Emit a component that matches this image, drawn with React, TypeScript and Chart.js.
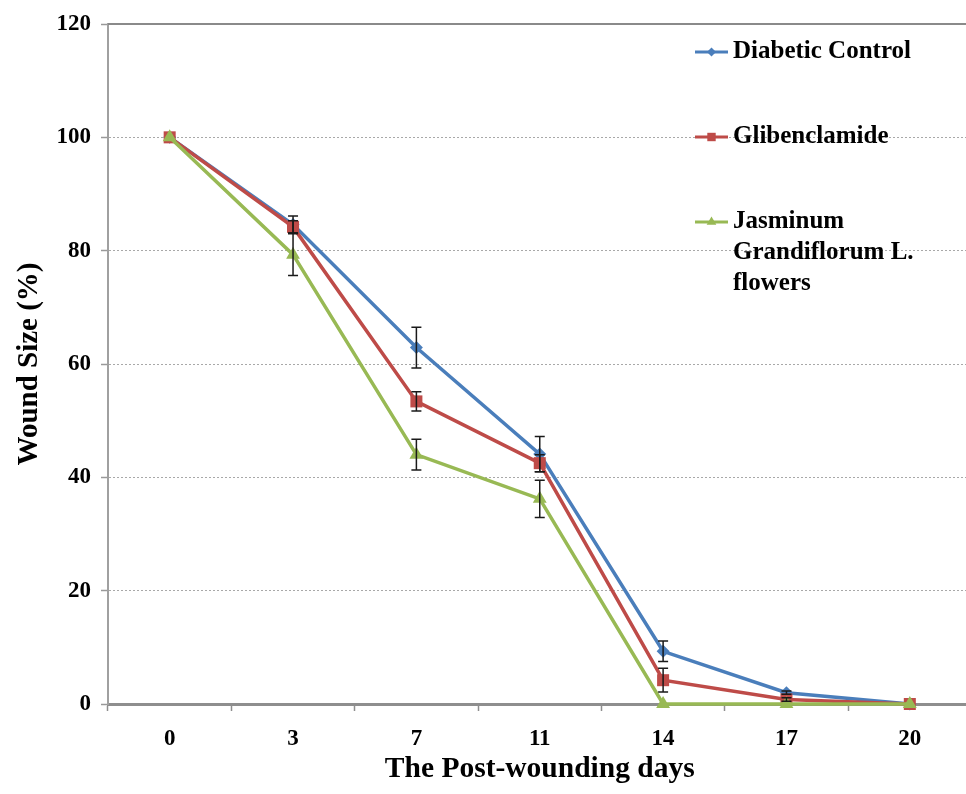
import React, { useEffect, useRef } from "react";
import { Chart, registerables } from "chart.js";

Chart.register(...registerables);

const days = ["0", "3", "7", "11", "14", "17", "20"];
const seriesNames = ["Diabetic Control", "Glibenclamide", "Jasminum Grandiflorum L. flowers"];
const diabeticControl = [100, 84.6, 62.9, 44.1, 9.3, 2.0, 0];
const glibenclamide = [100, 84.2, 53.4, 42.5, 4.2, 0.8, 0];
const jasminum = [100, 79.3, 44.0, 36.2, 0, 0, 0];
const diabeticErr = [0, 1.5, 3.6, 3.1, 1.8, 0.3, 0];
const glibenclamideErr = [0, 1.1, 1.7, 1.5, 2.1, 0.3, 0];
const jasminumErr = [0, 3.7, 2.7, 3.3, 0, 0, 0];
const yTicks = [0, 20, 40, 60, 80, 100, 120];

const colors = ["#4a7ebb", "#be4b48", "#98b954"];
const pointStyles = ["rectRot", "rect", "triangle"];
const pointRadii = [6.5, 8.5, 8];
const FONT = "'Liberation Serif', 'Times New Roman', serif";

const errorBarPlugin = {
  id: "errorBars",
  afterDatasetsDraw(chart: any) {
    const ctx = chart.ctx;
    const y = chart.scales.y;
    const errs = [diabeticErr, glibenclamideErr, jasminumErr];
    ctx.save();
    ctx.strokeStyle = "#1a1a1a";
    ctx.lineWidth = 1.5;
    chart.data.datasets.forEach((ds: any, di: number) => {
      const meta = chart.getDatasetMeta(di);
      meta.data.forEach((pt: any, i: number) => {
        const e = errs[di][i];
        if (!e) return;
        const v = ds.data[i];
        const yTop = y.getPixelForValue(v + e);
        const yBot = y.getPixelForValue(v - e);
        const x = pt.x;
        ctx.beginPath();
        ctx.moveTo(x, yTop);
        ctx.lineTo(x, yBot);
        ctx.moveTo(x - 5, yTop);
        ctx.lineTo(x + 5, yTop);
        ctx.moveTo(x - 5, yBot);
        ctx.lineTo(x + 5, yBot);
        ctx.stroke();
      });
    });
    ctx.restore();
  },
};

const frameTopPlugin = {
  id: "frameTop",
  beforeDatasetsDraw(chart: any) {
    const { ctx, chartArea } = chart;
    ctx.save();
    ctx.strokeStyle = "#8a8a8a";
    ctx.lineWidth = 2;
    ctx.beginPath();
    ctx.moveTo(chartArea.left, chartArea.top);
    ctx.lineTo(chartArea.right, chartArea.top);
    ctx.stroke();
    ctx.restore();
  },
};

function drawMarker(ctx: CanvasRenderingContext2D, style: string, x: number, y: number, r: number) {
  ctx.beginPath();
  if (style === "rectRot") {
    ctx.moveTo(x, y - r);
    ctx.lineTo(x + r, y);
    ctx.lineTo(x, y + r);
    ctx.lineTo(x - r, y);
  } else if (style === "rect") {
    const s = r * Math.SQRT1_2;
    ctx.rect(x - s, y - s, 2 * s, 2 * s);
  } else {
    const h = (r * 3) / 2;
    const s = (r * Math.sqrt(3));
    ctx.moveTo(x, y - r);
    ctx.lineTo(x + s / 2, y - r + h);
    ctx.lineTo(x - s / 2, y - r + h);
  }
  ctx.closePath();
  ctx.fill();
}

const legendPlugin = {
  id: "customLegend",
  afterDraw(chart: any) {
    const ctx = chart.ctx;
    const rowsY = [52, 137, 222];
    const lineX0 = 695;
    const lineX1 = 728;
    const textX = 733;
    const lineH = 31;
    const maxW = 205;
    ctx.save();
    ctx.font = `bold 25px ${FONT}`;
    ctx.textBaseline = "middle";
    ctx.textAlign = "left";
    chart.data.datasets.forEach((ds: any, i: number) => {
      const yy = rowsY[i];
      ctx.strokeStyle = colors[i];
      ctx.lineWidth = 3;
      ctx.beginPath();
      ctx.moveTo(lineX0, yy);
      ctx.lineTo(lineX1, yy);
      ctx.stroke();
      ctx.fillStyle = colors[i];
      drawMarker(ctx, pointStyles[i], (lineX0 + lineX1) / 2, yy, pointRadii[i] * 0.7);
      const words = String(ds.label).split(" ");
      const lines: string[] = [];
      let cur = "";
      words.forEach((w) => {
        const test = cur ? cur + " " + w : w;
        if (ctx.measureText(test).width > maxW && cur) {
          lines.push(cur);
          cur = w;
        } else cur = test;
      });
      if (cur) lines.push(cur);
      ctx.fillStyle = "#000";
      lines.forEach((ln, k) => ctx.fillText(ln, textX, yy + k * lineH));
    });
    ctx.restore();
  },
};

export default function App() {
  const ref = useRef<HTMLCanvasElement | null>(null);
  useEffect(() => {
    document.body.style.margin = "0";
    if (!ref.current) return;
    const series = [diabeticControl, glibenclamide, jasminum];
    const chart = new Chart(ref.current, {
      type: "line",
      data: {
        labels: days,
        datasets: series.map((d, i) => ({
          label: seriesNames[i],
          data: d,
          order: series.length - i,
          borderColor: colors[i],
          backgroundColor: colors[i],
          borderWidth: 3.5,
          pointStyle: pointStyles[i] as any,
          pointRadius: pointRadii[i],
          pointBorderWidth: 0,
          pointBackgroundColor: colors[i],
          tension: 0,
          clip: false as any,
        })),
      },
      options: {
        animation: false,
        responsive: false,
        maintainAspectRatio: false,
        layout: { padding: { top: 24, right: 4, left: 0, bottom: 0 } },
        plugins: { legend: { display: false }, tooltip: { enabled: false } },
        scales: {
          x: {
            type: "category",
            offset: true,
            afterFit: (s: any) => {
              s.height = 90;
            },
            grid: {
              offset: true,
              drawOnChartArea: false,
              drawTicks: true,
              tickLength: 7,
              tickColor: "#8e8e8e",
              tickWidth: 1.5,
            },
            border: { display: true, color: "#8e8e8e", width: 3 },
            ticks: {
              color: "#000",
              padding: 14,
              font: { family: FONT, size: 23, weight: "bold" },
            },
            title: {
              display: true,
              text: "The Post-wounding days",
              color: "#000",
              font: { family: FONT, size: 29.5, weight: "bold" },
              padding: { top: 0, bottom: 7 },
            },
          },
          y: {
            min: 0,
            max: 120,
            afterFit: (s: any) => {
              s.width = 108;
            },
            afterBuildTicks: (s: any) => {
              s.ticks = yTicks.map((v) => ({ value: v }));
            },
            grid: {
              color: "#a8a8a8",
              lineWidth: 1,
              drawTicks: true,
              tickLength: 7,
              tickColor: "#999",
              tickWidth: 1.5,
              tickBorderDash: [],
            } as any,
            border: { display: true, color: "#a0a0a0", width: 2, dash: [2, 2] },
            ticks: {
              color: "#000",
              padding: 10,
              font: { family: FONT, size: 23, weight: "bold" },
            },
            title: {
              display: true,
              text: "Wound Size (%)",
              color: "#000",
              font: { family: FONT, size: 29, weight: "bold" },
              padding: { top: 12, bottom: 0 },
            },
          },
        },
      },
      plugins: [frameTopPlugin, errorBarPlugin, legendPlugin],
    });
    return () => chart.destroy();
  }, []);
  return (
    <div style={{ position: "relative", width: 966, height: 794, overflow: "hidden", background: "#fff" }}>
      <canvas ref={ref} width={980} height={794} style={{ display: "block", width: 980, height: 794 }} />
    </div>
  );
}
